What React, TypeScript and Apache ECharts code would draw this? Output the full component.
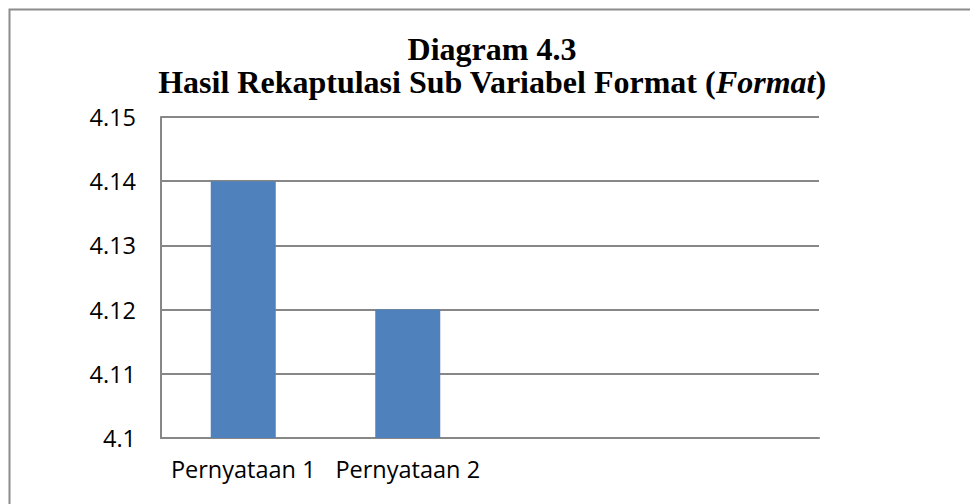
import React, { useEffect, useRef } from "react";
import * as echarts from "echarts";

const categories = ["Pernyataan 1", "Pernyataan 2", "", ""];
const values: (number | null)[] = [4.14, 4.12, null, null];
const titleLine1 = "Diagram 4.3";
const titleLine2a = "Hasil Rekaptulasi Sub Variabel Format (";
const titleLine2b = "Format";
const titleLine2c = ")";

export default function App() {
  const ref = useRef<HTMLDivElement>(null);
  useEffect(() => {
    if (!ref.current) return;
    const chart = echarts.init(ref.current, undefined, { renderer: "svg" });
    const axisGray = "#878787";
    const labelFont = { fontFamily: "Open Sans", fontSize: 23.5, color: "#000" };
    chart.setOption({
      animation: false,
      backgroundColor: "#fff",
      title: {
        left: 487,
        top: 27,
        textAlign: "center",
        text: `{b|${titleLine1}}\n{b|${titleLine2a}}{i|${titleLine2b}}{b|${titleLine2c}}`,
        textStyle: {
          rich: {
            b: { fontFamily: "Liberation Serif", fontWeight: "bold", fontSize: 32, lineHeight: 33, color: "#000" },
            i: { fontFamily: "Liberation Serif", fontWeight: "bold", fontStyle: "italic", fontSize: 32, lineHeight: 33, color: "#000" },
          },
        },
      },
      graphic: [
        {
          type: "rect",
          shape: { x: 9.5, y: 9.5, width: 1100, height: 1000 },
          style: { fill: "none", stroke: "#8c8c8c", lineWidth: 2 },
          silent: true,
        },
      ],
      grid: { left: 161, right: 151, top: 117, bottom: 66, containLabel: false },
      xAxis: {
        type: "category",
        data: categories,
        axisLine: { show: true, lineStyle: { color: axisGray, width: 2 } },
        axisTick: { show: false },
        axisLabel: { ...labelFont, margin: 19, interval: 0 },
      },
      yAxis: {
        type: "value",
        min: 4.1,
        max: 4.15,
        interval: 0.01,
        axisLine: { show: true, lineStyle: { color: axisGray, width: 2 } },
        axisTick: { show: false },
        axisLabel: { ...labelFont, margin: 25 },
        splitLine: { show: true, lineStyle: { color: axisGray, width: 2 } },
      },
      series: [
        {
          type: "bar",
          data: values,
          barWidth: 65,
          itemStyle: { color: "#4f81bd" },
        },
      ],
    });
    return () => chart.dispose();
  }, []);
  return (
    <div
      ref={ref}
      style={{ position: "absolute", left: 0, top: 0, width: 970, height: 504 }}
    />
  );
}
